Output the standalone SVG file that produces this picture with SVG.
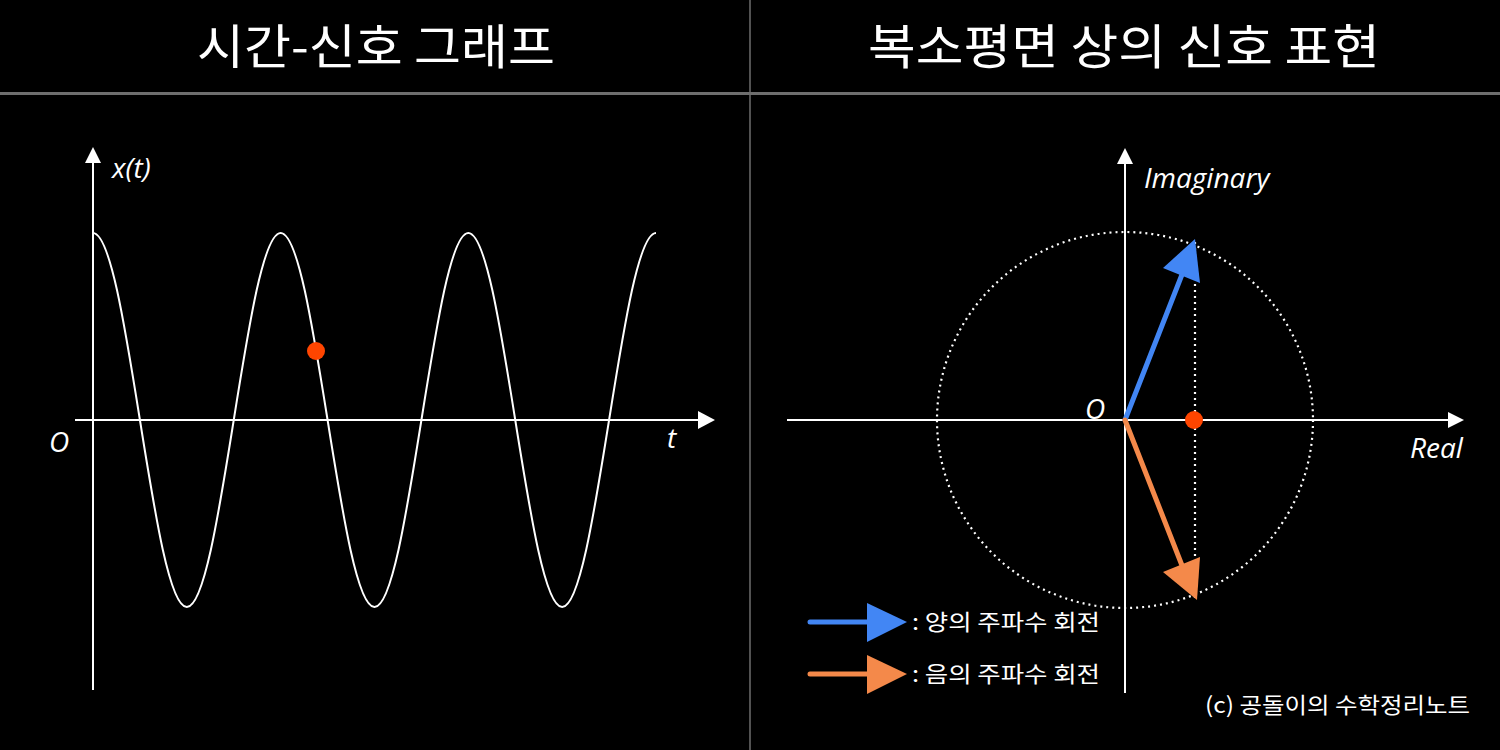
<svg xmlns="http://www.w3.org/2000/svg" width="1500" height="750" viewBox="0 0 1500 750">
<style>
.title{font-family:"Noto Sans CJK KR","Noto Sans",sans-serif;font-size:48px;fill:#fff}
.lbl{font-family:"Open Sans","Noto Sans",sans-serif;font-style:italic;font-size:28px;fill:#fff}
.kr{font-family:"Noto Sans CJK KR",sans-serif;font-size:22px;fill:#fff}
.axis{stroke:#fff;stroke-width:2;fill:none}
.head{fill:#fff}
.dot{stroke:#fff;stroke-width:2.2;fill:none;stroke-dasharray:2 4}
.div{stroke:#6e6e6e;fill:none}
.blue{stroke:#4286f4;stroke-width:5;stroke-linecap:round;fill:none}
.orange{stroke:#f4894a;stroke-width:5;stroke-linecap:round;fill:none}
.bluef{fill:#4286f4}
.orangef{fill:#f4894a}
.red{fill:#ff4500}
</style>
<rect width="1500" height="750" fill="#000"/>
<g id="frame">
<line class="div" x1="750" y1="0" x2="750" y2="750" stroke-width="1.5"/>
<line class="div" x1="0" y1="93.5" x2="1500" y2="93.5" stroke-width="3"/>
</g>
<g id="title-left"><text class="title" x="376" y="64" text-anchor="middle" textLength="358" lengthAdjust="spacingAndGlyphs">시간-신호 그래프</text></g>
<g id="title-right"><text class="title" x="1124" y="64" text-anchor="middle" textLength="512" lengthAdjust="spacingAndGlyphs">복소평면 상의 신호 표현</text></g>

<g id="left-axes">
<line class="axis" x1="93" y1="690" x2="93" y2="160"/>
<polygon class="head" points="93,147 85,163 101,163"/>
<line class="axis" x1="75" y1="420" x2="702" y2="420"/>
<polygon class="head" points="715,420 698,411 698,429"/>
<text class="lbl" x="112" y="178">x(t)</text>
<text class="lbl" x="49" y="452">O</text>
<text class="lbl" x="667" y="448">t</text>
</g>
<g id="signal">
<path class="axis" d="M 93,233 C 109.98,233 124.62,324.2 139.92,420 S 169.85,607 186.83,607 S 218.45,515.8 233.75,420 S 263.69,233 280.67,233 S 312.28,324.2 327.58,420 S 357.52,607 374.5,607 S 406.12,515.8 421.42,420 S 451.35,233 468.33,233 S 499.95,324.2 515.25,420 S 545.19,607 562.17,607 S 593.78,515.8 609.08,420 S 639.02,233 656,233"/>
<circle id="sample-dot" class="red" cx="316" cy="351" r="9"/>
</g>

<g id="right-axes">
<line class="axis" x1="1125" y1="693" x2="1125" y2="160"/>
<polygon class="head" points="1125,148 1117,164 1133,164"/>
<line class="axis" x1="787" y1="420" x2="1450" y2="420"/>
<polygon class="head" points="1464,420 1448,412 1448,428"/>
<text class="lbl" x="1144" y="188">Imaginary</text>
<text class="lbl" x="1410" y="458">Real</text>
<text class="lbl" x="1085" y="419">O</text>
</g>
<g id="unit-circle">
<circle class="dot" cx="1125" cy="420" r="188"/>
<line class="dot" x1="1195" y1="242" x2="1195" y2="598"/>
</g>
<g id="connectors">
<g id="positive-phasor">
<line class="blue" x1="1125" y1="420" x2="1183" y2="272"/>
<polygon class="bluef" points="1195,239 1163,268 1200,283"/>
</g>
<g id="negative-phasor">
<line class="orange" x1="1125" y1="420" x2="1183" y2="568"/>
<polygon class="orangef" points="1197,600 1163,572 1200,557"/>
</g>
</g>
<circle id="projection-dot" class="red" cx="1194" cy="420" r="9"/>

<g id="legend-positive">
<line class="blue" x1="810" y1="622" x2="870" y2="622" stroke-width="6"/>
<polygon class="bluef" points="867,603 907,622 867,642"/>
<text class="kr" x="912" y="630" textLength="188" lengthAdjust="spacingAndGlyphs">: 양의 주파수 회전</text>
</g>
<g id="legend-negative">
<line class="orange" x1="810" y1="674" x2="870" y2="674" stroke-width="6"/>
<polygon class="orangef" points="867,655 907,674 867,694"/>
<text class="kr" x="912" y="682" textLength="188" lengthAdjust="spacingAndGlyphs">: 음의 주파수 회전</text>
</g>
<g id="copyright"><text class="kr" x="1205" y="713" font-size="22" textLength="265" lengthAdjust="spacingAndGlyphs">(c) 공돌이의 수학정리노트</text></g>
</svg>
